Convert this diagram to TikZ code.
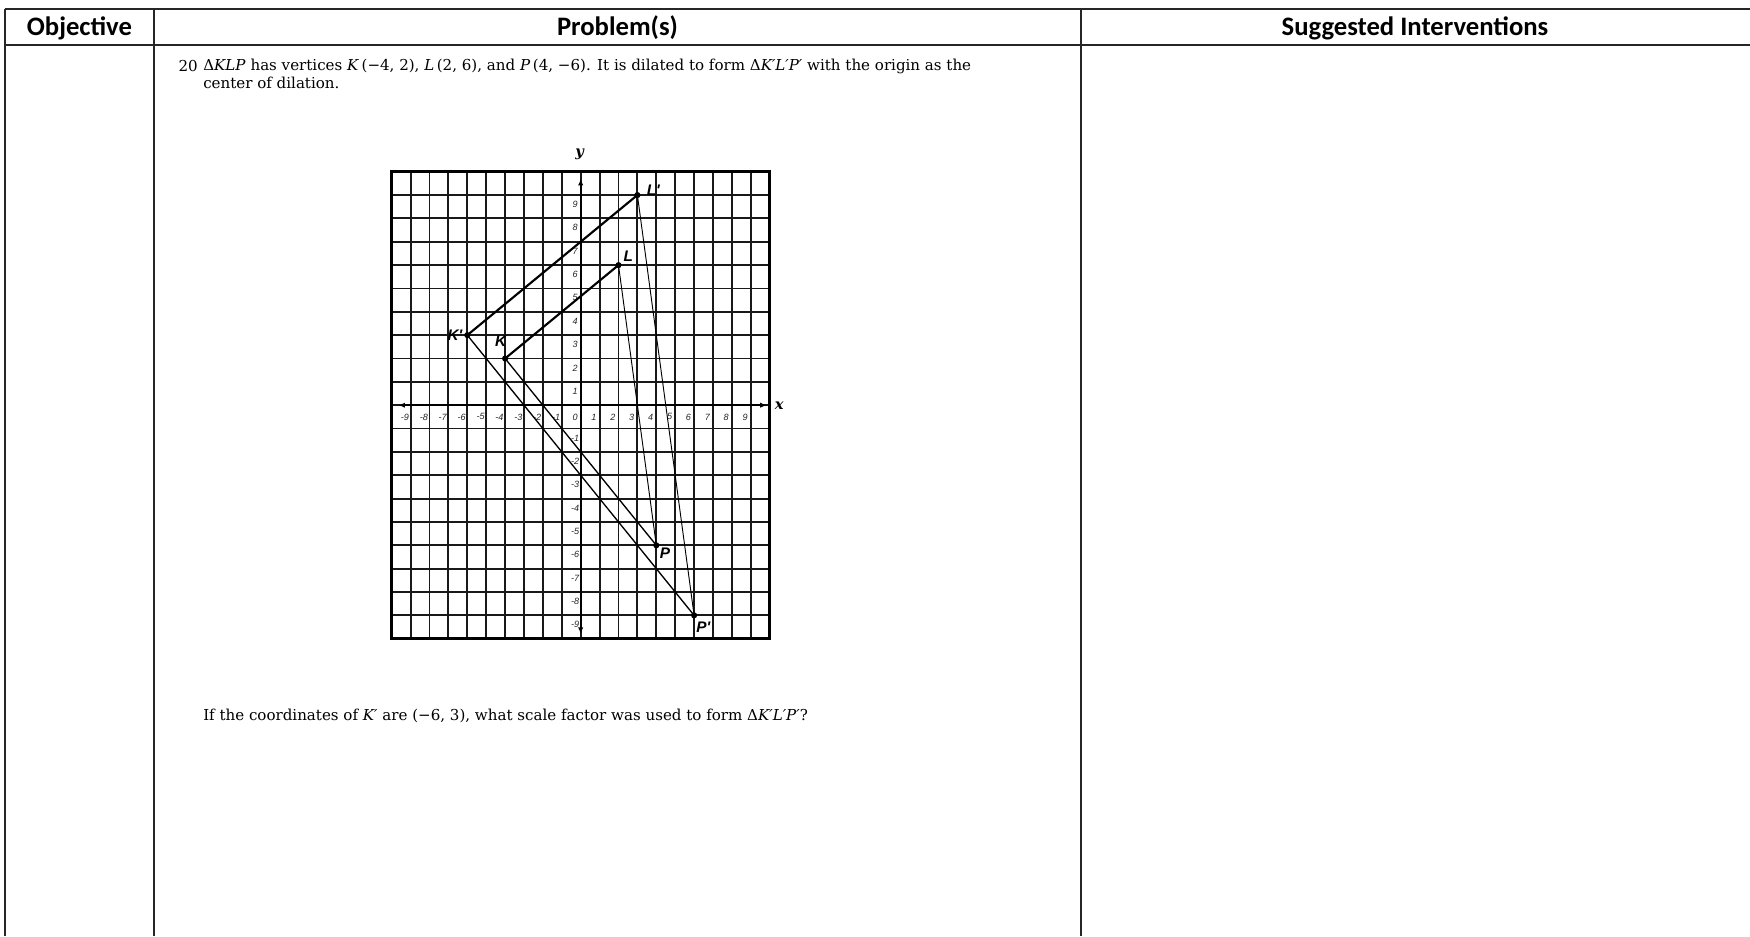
\documentclass[tikz,border=0pt]{standalone}
\usepackage{fontspec}
\newfontfamily\hdrfont{Carlito}
\newfontfamily\lblfont{Liberation Sans}
\newfontfamily\txtfont{DejaVu Serif}
\usetikzlibrary{arrows.meta}
\begin{document}
\begin{tikzpicture}[x=0.75pt,y=-0.75pt,
  hrule/.style={line width=1.5pt, black!85},
  vrule/.style={line width=0.8pt, black!85},
  hdr/.style={font=\hdrfont\bfseries\fontsize{20}{23}\selectfont, inner sep=0pt},
  body/.style={font=\txtfont\fontsize{11.3}{13.5}\selectfont, anchor=west, inner sep=0pt},
  gridline/.style={line width=1.4pt, black!90},
  gridframe/.style={line width=2.2pt, black},
  axis/.style={line width=1.4pt, {Latex[length=5pt,width=4pt]}-{Latex[length=5pt,width=4pt]}},
  tick/.style={font=\lblfont\itshape\fontsize{6.8}{7}\selectfont, inner sep=0pt, text=black!85},
  vlabel/.style={font=\lblfont\bfseries\itshape\fontsize{11.5}{13}\selectfont, inner sep=0pt},
  axlabel/.style={font=\txtfont\itshape\bfseries\fontsize{11}{12}\selectfont, inner sep=0pt},
  side/.style={line width=1.6pt},
  diag/.style={line width=1.0pt},
  steep/.style={line width=0.7pt},
  vdot/.style={fill=black}
]
\useasboundingbox (0,0) rectangle (1750,936);
% table
\draw[hrule] (1750,9) -- (5,9);
\draw[vrule] (5,9) -- (5,936);
\draw[hrule] (5,45) -- (1750,45);
\draw[vrule] (154,9) -- (154,936);
\draw[vrule] (1081,9) -- (1081,936);
\node[hdr] (h1) at (79.5,28) {Objective};
\node[hdr] (h2) at (617.5,28) {Problem(s)};
\node[hdr] (h3) at (1415,28) {Suggested Interventions};
% problem text
\node[body, anchor=east] (num) at (198,66) {20};
\node[body] (q1) at (203,66) {Δ\textit{KLP} has vertices \textit{K}\,(−4, 2), \textit{L}\,(2, 6), and \textit{P}\,(4, −6). It is dilated to form Δ\textit{K′L′P′} with the origin as the};
\node[body] (q2) at (203,83) {center of dilation.};
\node[body] (q3) at (203,716) {If the coordinates of \textit{K′} are (−6, 3), what scale factor was used to form Δ\textit{K′L′P′}?};
% coordinate grid
\begin{scope}[shift={(580.7,405.2)}, x=14.175pt, y=17.5125pt]
  \foreach \i in {-10,...,10} {
    \draw[gridline] (\i,-10) -- (\i,10);
    \draw[gridline] (-10,\i) -- (10,\i);
  }
  \draw[gridframe] (-10,-10) rectangle (10,10);
  \draw[axis] (-9.65,0) -- (9.85,0);
  \draw[axis] (0,-9.8) -- (0,9.7);
  \foreach \k in {-9,...,9} \node[tick] at (\k-0.3,-0.5) {\k};
  \foreach \k in {-9,...,-1,1,2,...,9} \node[tick] at (-0.3,\k-0.4) {\k};
  \node[axlabel] (ylab) at (-0.05,10.75) {y};
  \node[axlabel] (xlab) at (10.5,0) {x};
  \coordinate (K) at (-4,2);
  \coordinate (L) at (2,6);
  \coordinate (P) at (4,-6);
  \coordinate (K1) at (-6,3);
  \coordinate (L1) at (3,9);
  \coordinate (P1) at (6,-9);
  \draw[side] (K) -- (L);
  \draw[side] (K1) -- (L1);
  \draw[diag] (K) -- (P);
  \draw[diag] (K1) -- (P1);
  \draw[steep] (L) -- (P);
  \draw[steep] (L1) -- (P1);
  \foreach \p in {K,L,P,K1,L1,P1} \fill[vdot] (\p) circle (2.3pt);
  \node[vlabel] (lK1) at (-6.65,3.0) {K'};
  \node[vlabel] (lK) at (-4.23,2.72) {K};
  \node[vlabel] (lL) at (2.52,6.36) {L};
  \node[vlabel] (lL1) at (3.84,9.22) {L'};
  \node[vlabel] (lP) at (4.46,-6.34) {P};
  \node[vlabel] (lP1) at (6.49,-9.49) {P'};
\end{scope}
\end{tikzpicture}
\end{document}
